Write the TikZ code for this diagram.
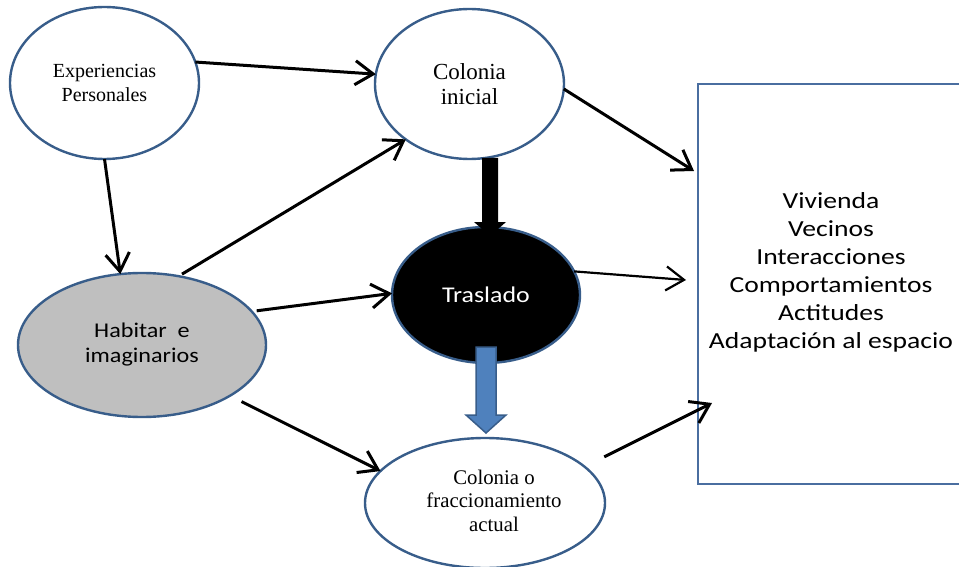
\documentclass[tikz,border=0pt]{standalone}
\usepackage{fontspec}
\setmainfont{Liberation Serif}
\newfontfamily\calib[FakeStretch=1.15]{Carlito}
\newfontfamily\calibwide[FakeStretch=1.2]{Carlito}
\usetikzlibrary{shapes.geometric,arrows.meta}
\definecolor{edgeblue}{RGB}{56,93,138}
\definecolor{boxblue}{RGB}{74,110,160}
\definecolor{fillblue}{RGB}{79,129,189}
\definecolor{habgray}{RGB}{191,191,191}
\tikzset{
  oval/.style={ellipse, draw=edgeblue, line width=2.4pt, inner sep=0pt, outer sep=0pt, align=center},
  conn/.style={draw=black, line width=3pt, -{Straight Barb[length=18pt,width=24pt]}},
  connthin/.style={draw=black, line width=2.2pt, -{Straight Barb[length=18pt,width=24pt]}},
}
\begin{document}
\begin{tikzpicture}[x=1pt,y=-1pt]
\useasboundingbox (0,0) rectangle (959,567);
\clip (0,0) rectangle (959,567);
% nodes
\node[oval, minimum width=189, minimum height=152, font={\fontsize{20}{24}\selectfont}] (exp) at (104.5,83) {Experiencias\\Personales};
\node[oval, minimum width=189, minimum height=150, font={\fontsize{23}{24.5}\selectfont}] (col) at (469.5,84) {Colonia\\inicial};
\node[oval, fill=habgray, minimum width=248, minimum height=144, font={\calib\fontsize{21}{25}\selectfont}] (hab) at (142,345) {Habitar~~e\\imaginarios};
\node[oval, fill=black, text=white, minimum width=188, minimum height=136, font={\calib\fontsize{22.5}{26}\selectfont}] (trs) at (486,295) {Traslado};
\node[oval, minimum width=240, minimum height=130, font={\fontsize{20.8}{23.5}\selectfont}] (col2) at (485,503) {\begin{tabular}{@{\hspace{18pt}}c@{}}Colonia o\\fraccionamiento\\actual\end{tabular}};
\node[draw=boxblue, line width=2.2pt, rectangle, minimum width=280, minimum height=400, inner sep=0pt, outer sep=0pt] (box) at (838,284) {};
\node[align=center, inner sep=0pt, font={\calibwide\fontsize{23}{28}\selectfont}] (boxtxt) at (831,272) {Vivienda\\Vecinos\\Interacciones\\Comportamientos\\Actitudes\\Adaptación al espacio};
% free ends at the box
\coordinate (b1) at (694,171);
\coordinate (b2) at (686,280);
\coordinate (b3) at (712,403);
% connectors
\draw[conn] (exp.13) -- (col.174);
\draw[conn] (exp.south) -- (hab.107);
\draw[conn, shorten <=4pt] (hab.62) -- (col.221);
\draw[conn, shorten <=5pt] (hab.17) -- (trs.179);
\draw[conn, shorten <=13pt] (hab.-30) -- (col2.163);
\draw[conn] (col.-3) -- (b1);
\draw[connthin] (trs.15) -- (b2);
\draw[conn, shorten <=22pt] (col2.20) -- (b3);
% block arrows
\fill[black] (482,158) -- (498,158) -- (498,222) -- (506,222) -- (490,236) -- (474,222) -- (482,222) -- cycle;
\filldraw[fill=fillblue, draw=edgeblue, line width=1.5pt] (476,347) -- (496,347) -- (496,415) -- (506,415) -- (486,433) -- (466,415) -- (476,415) -- cycle;
\end{tikzpicture}
\end{document}
